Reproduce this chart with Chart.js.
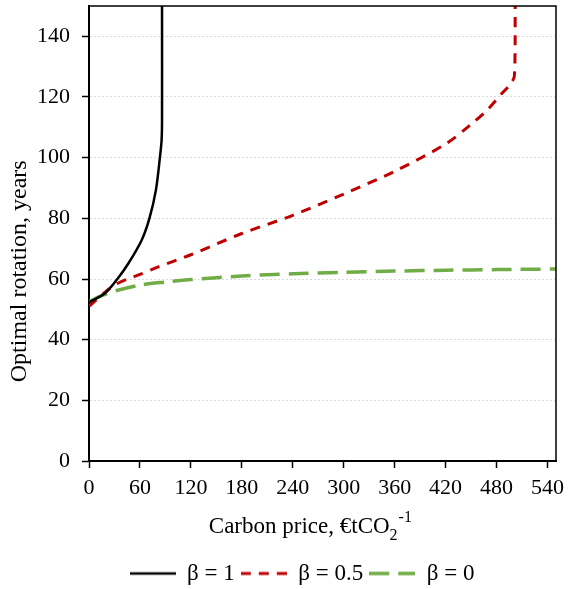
<!DOCTYPE html>
<html><head><meta charset="utf-8">
<script src="https://cdn.jsdelivr.net/npm/chart.js@4.4.0/dist/chart.umd.min.js"></script>
<style>html,body{margin:0;padding:0;background:#fff}</style>
</head><body>
<canvas id="c" width="568" height="589" style="display:block;width:568px;height:589px"></canvas>
<script>
// ---- data ----
const seriesNames = ['β = 1', 'β = 0.5', 'β = 0'];
const blackX = [0, 18.8, 34.5, 46.3, 62, 71, 78.8, 83.5, 85.5, 86, 86];
const blackY = [52.3, 55.3, 60.4, 65.1, 72.8, 79.8, 89.3, 100, 105.8, 112, 150];
const redX = [0, 30, 60, 80, 120, 180, 240, 300, 360, 420, 450, 470, 485, 497, 501, 502];
const redY = [51, 58, 61.5, 63.8, 68, 75, 81, 88, 95.5, 104.5, 111, 116, 120.8, 124.5, 127, 150];
const greenX = [0, 15, 30, 60, 90, 120, 180, 240, 300, 360, 420, 480, 550];
const greenY = [52.5, 54.5, 56, 58, 59, 59.8, 61, 61.7, 62.2, 62.6, 62.9, 63.1, 63.3];
const xTicks = [0, 60, 120, 180, 240, 300, 360, 420, 480, 540];
const yTicks = [0, 20, 40, 60, 80, 100, 120, 140];
const xTitleMain = 'Carbon price, €tCO';
const xTitleSub = '2';
const xTitleSup = '-1';
const yTitle = 'Optimal rotation, years';

const FONT = '"Liberation Serif", "Times New Roman", serif';
const pts = (xs, ys) => xs.map((x, i) => ({x, y: ys[i]}));

const LEG_W = 46;
function legendSample(color, width, dash) {
  const c = document.createElement('canvas');
  c.width = LEG_W; c.height = 8;
  const g = c.getContext('2d');
  g.strokeStyle = color; g.lineWidth = width; g.setLineDash(dash);
  g.beginPath(); g.moveTo(0, 4); g.lineTo(LEG_W, 4); g.stroke();
  return c;
}

const styles = [
  {color: '#000000', width: 2.5, dash: []},
  {color: '#C00000', width: 3, dash: [10, 8]},
  {color: '#70AD47', width: 3.5, dash: [20, 9]}
];
const allX = [blackX, redX, greenX], allY = [blackY, redY, greenY];

const extras = {
  id: 'extras',
  afterLayout(chart) {
    const lg = chart.legend;
    if (lg) {
      const dx = 24, dy = 6;
      lg.left += dx; lg.right += dx; lg.top += dy; lg.bottom += dy;
    }
  },
  afterDraw(chart) {
    const {ctx, chartArea: a} = chart;
    ctx.save();
    ctx.strokeStyle = '#000';
    ctx.lineWidth = 1.5;
    ctx.beginPath();
    ctx.moveTo(a.left, a.top);
    ctx.lineTo(a.right, a.top);
    ctx.lineTo(a.right, a.bottom);
    ctx.stroke();
    ctx.fillStyle = '#000';
    // y title
    ctx.save();
    ctx.font = '24px ' + FONT;
    ctx.translate(26, a.top + (a.bottom - a.top) * 0.583);
    ctx.rotate(-Math.PI / 2);
    ctx.textAlign = 'center';
    ctx.textBaseline = 'alphabetic';
    ctx.fillText(yTitle, 0, 0);
    ctx.restore();
    // x title with sub/superscript
    const big = '23px ' + FONT, small = '16px ' + FONT;
    ctx.font = big; const w1 = ctx.measureText(xTitleMain).width;
    ctx.font = small; const w2 = ctx.measureText(xTitleSub).width; const w3 = ctx.measureText(xTitleSup).width;
    const total = w1 + w2 + 1 + w3;
    const cx = a.left + (a.right - a.left) * 0.474;
    const base = a.bottom + 72;
    let x0 = cx - total / 2;
    ctx.textAlign = 'left';
    ctx.textBaseline = 'alphabetic';
    ctx.font = big; ctx.fillText(xTitleMain, x0, base);
    ctx.font = small; ctx.fillText(xTitleSub, x0 + w1, base + 7);
    ctx.fillText(xTitleSup, x0 + w1 + w2 + 1, base - 11);
    ctx.restore();
  }
};

new Chart(document.getElementById('c'), {
  type: 'line',
  data: {
    datasets: seriesNames.map((name, i) => ({
      label: name,
      data: pts(allX[i], allY[i]),
      borderColor: styles[i].color,
      backgroundColor: styles[i].color,
      borderWidth: styles[i].width,
      borderDash: styles[i].dash,
      pointRadius: 0,
      pointStyle: legendSample(styles[i].color, styles[i].width, styles[i].dash),
      tension: 0.3,
      fill: false
    }))
  },
  options: {
    responsive: false,
    animation: false,
    layout: {padding: {top: 6, right: 12, left: 0, bottom: 0}},
    plugins: {
      legend: {
        position: 'bottom',
        labels: {usePointStyle: true, pointStyleWidth: LEG_W, color: '#000', padding: 6,
                 font: {family: FONT, size: 23}}
      },
      tooltip: {enabled: false}
    },
    scales: {
      x: {
        type: 'linear', min: 0, max: 550,
        afterBuildTicks: s => { s.ticks = xTicks.map(v => ({value: v})); },
        afterFit: s => { s.height = (s.chart.height - s.chart.legend.height) - 461; s.paddingLeft = 0; s.paddingRight = 0; },
        ticks: {color: '#000', font: {family: FONT, size: 22}, padding: 7, maxRotation: 0, autoSkip: false},
        grid: {drawOnChartArea: false, tickLength: 7, tickColor: '#000', tickWidth: 1.5},
        border: {color: '#000', width: 2}
      },
      y: {
        min: 0, max: 150,
        afterBuildTicks: s => { s.ticks = yTicks.map(v => ({value: v})); },
        afterFit: s => { s.width = 89; s.paddingTop = 0; s.paddingBottom = 0; },
        ticks: {color: '#000', font: {family: FONT, size: 22}, padding: 12},
        grid: {color: '#d9d9d9', lineWidth: 1, tickLength: 7, tickColor: '#000', tickWidth: 1.5},
        border: {color: '#000', width: 2, dash: [2, 2]}
      }
    }
  },
  plugins: [extras]
});
</script>
</body></html>
